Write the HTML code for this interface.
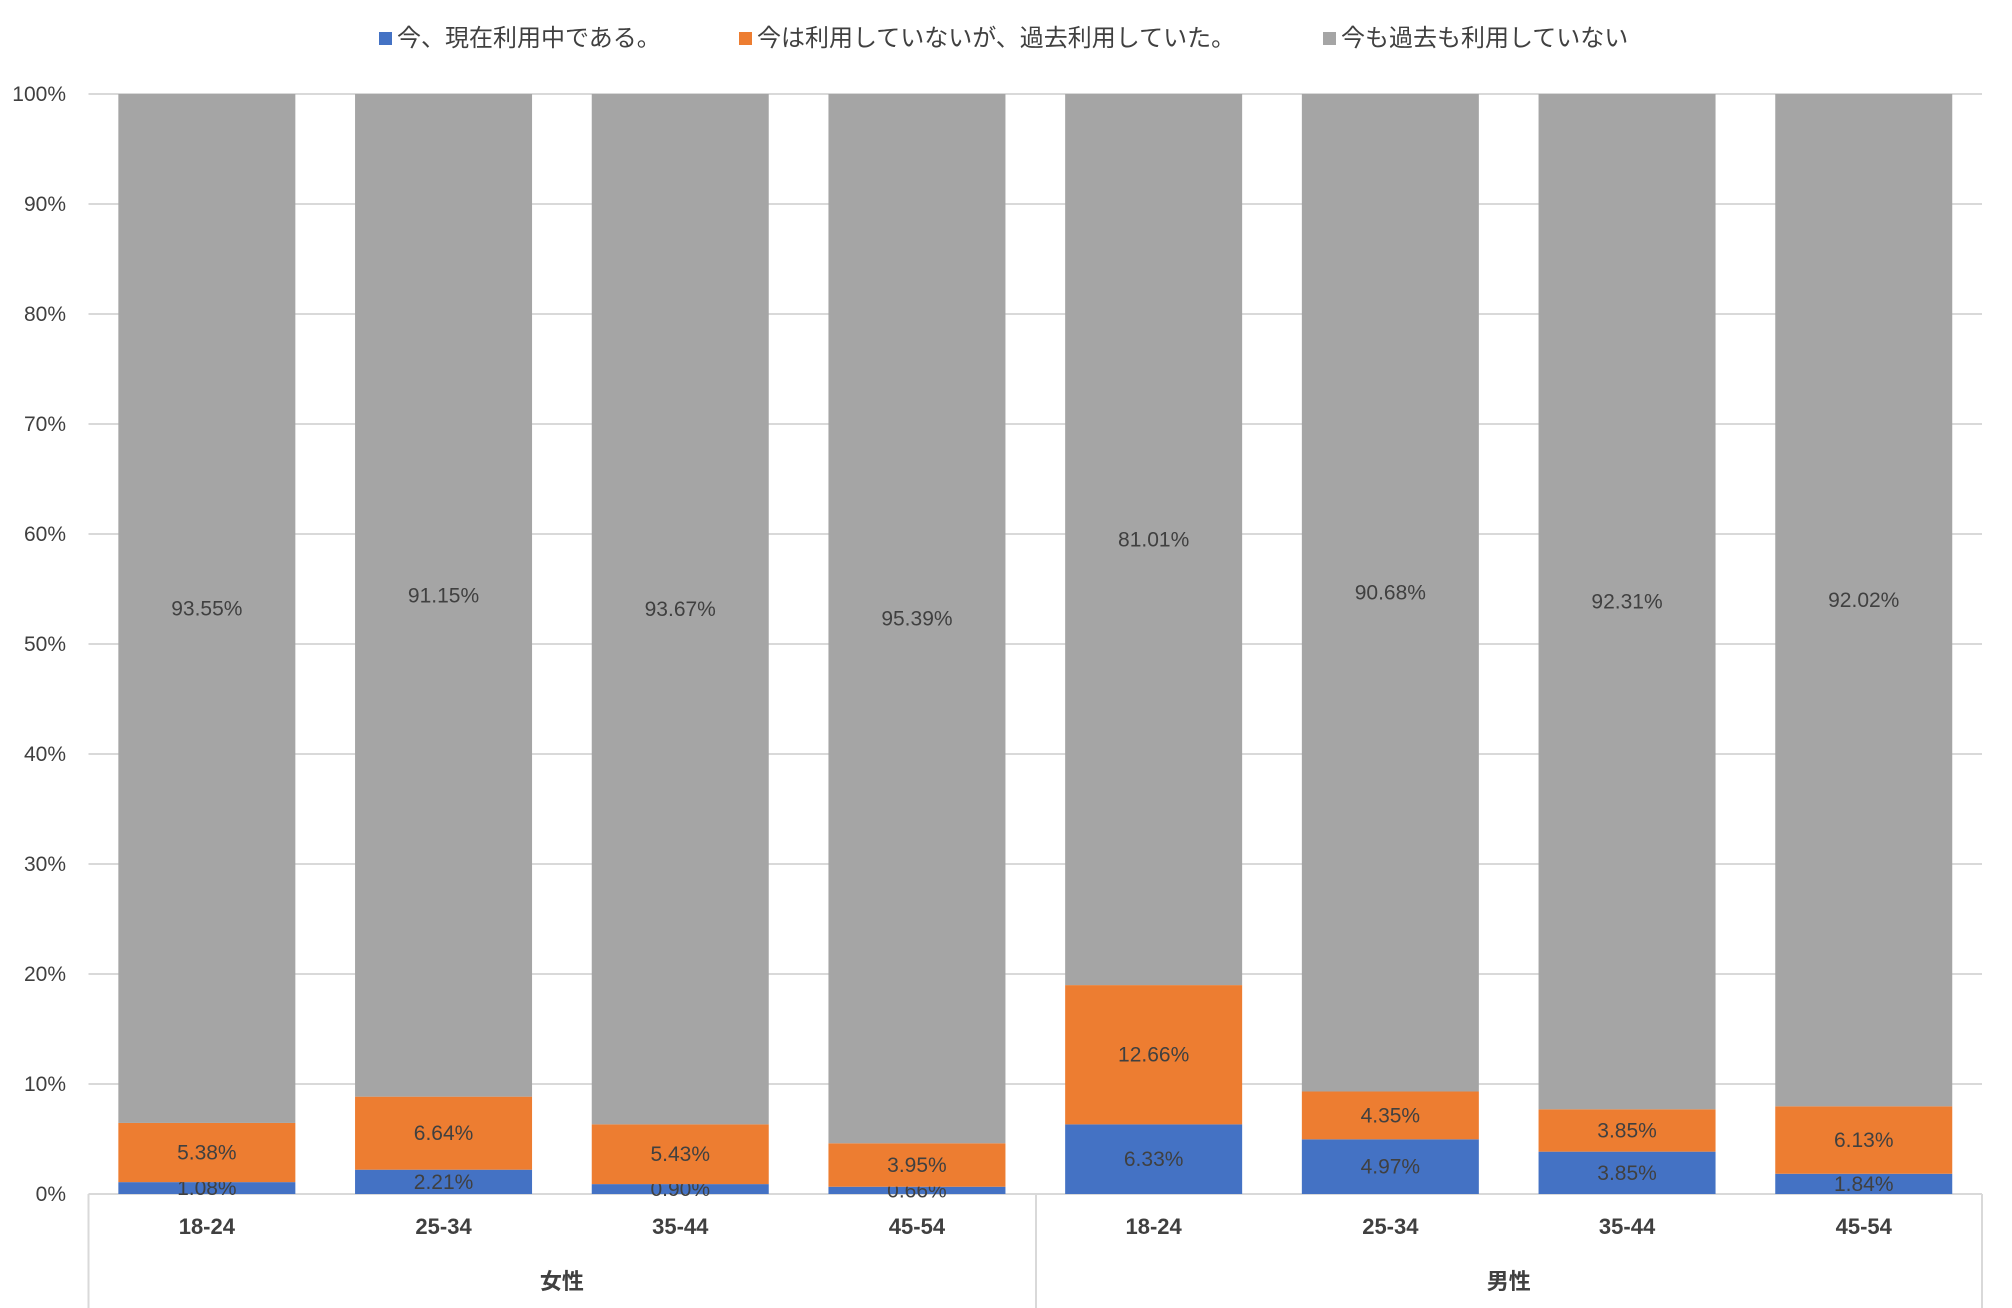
<!DOCTYPE html>
<html><head><meta charset="utf-8"><style>
body{margin:0;background:#fff;width:2012px;height:1308px;overflow:hidden}
svg{display:block}
text{font-family:"Liberation Sans","Noto Sans CJK JP",sans-serif;fill:#404040}
</style></head><body>
<svg width="2012" height="1308" viewBox="0 0 2012 1308">
<g font-size="24">
<rect x="379" y="32" width="13" height="13" fill="#4472c4"/><text x="397" y="46">今、現在利用中である。</text>
<rect x="739" y="32" width="13" height="13" fill="#ed7d31"/><text x="757" y="46">今は利用していないが、過去利用していた。</text>
<rect x="1323" y="32" width="13" height="13" fill="#a5a5a5"/><text x="1341" y="46">今も過去も利用していない</text>
</g>
<g stroke="#d9d9d9" stroke-width="2">
<line x1="88.5" x2="1982" y1="94" y2="94"/><line x1="88.5" x2="1982" y1="204" y2="204"/>
<line x1="88.5" x2="1982" y1="314" y2="314"/><line x1="88.5" x2="1982" y1="424" y2="424"/>
<line x1="88.5" x2="1982" y1="534" y2="534"/><line x1="88.5" x2="1982" y1="644" y2="644"/>
<line x1="88.5" x2="1982" y1="754" y2="754"/><line x1="88.5" x2="1982" y1="864" y2="864"/>
<line x1="88.5" x2="1982" y1="974" y2="974"/><line x1="88.5" x2="1982" y1="1084" y2="1084"/>
<line x1="88.5" x2="1982" y1="1194" y2="1194"/>
<line x1="88.5" x2="88.5" y1="1194" y2="1308"/><line x1="1036" x2="1036" y1="1194" y2="1308"/><line x1="1982" x2="1982" y1="1194" y2="1308"/>
</g>
<g font-size="21" text-anchor="end">
<text x="66" y="101">100%</text><text x="66" y="211">90%</text><text x="66" y="321">80%</text><text x="66" y="431">70%</text><text x="66" y="541">60%</text><text x="66" y="651">50%</text><text x="66" y="761">40%</text><text x="66" y="871">30%</text><text x="66" y="981">20%</text><text x="66" y="1091">10%</text><text x="66" y="1201">0%</text>
</g>
<g id="bars"></g>
<g id="lab" font-size="22" font-weight="bold" text-anchor="middle"></g>
</svg>
<script>
var d=[[1.08,5.38,93.55],[2.21,6.64,91.15],[0.90,5.43,93.67],[0.66,3.95,95.39],[6.33,12.66,81.01],[4.97,4.35,90.68],[3.85,3.85,92.31],[1.84,6.13,92.02]];
var ages=["18-24","25-34","35-44","45-54"];
var c=["#4472c4","#ed7d31","#a5a5a5"],s="",L="",W=236.7,X0=88.5;
d.forEach(function(v,i){var cx=X0+W*(i+0.5),x=cx-88.5,base=1194,tot=v[0]+v[1]+v[2];
L+='<text x="'+cx+'" y="1234">'+ages[i%4]+'</text>';
v.forEach(function(p,j){var h=p/tot*1100;var y=base-h;
s+='<rect x="'+x+'" y="'+y+'" width="177" height="'+h+'" fill="'+c[j]+'"/>';
s+='<text x="'+cx+'" y="'+(y+h/2+7)+'" font-size="21" text-anchor="middle">'+p.toFixed(2)+'%</text>';base=y;});});
L+='<text x="'+(X0+W*2)+'" y="1289">女性</text><text x="'+(X0+W*6)+'" y="1289">男性</text>';
document.getElementById("bars").innerHTML=s;
document.getElementById("lab").innerHTML=L;
</script>
</body></html>
